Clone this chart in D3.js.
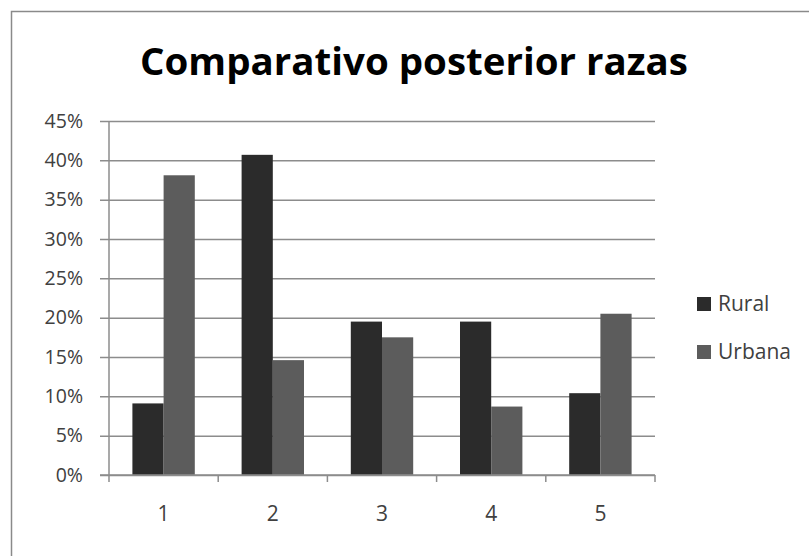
<!DOCTYPE html>
<html>
<head>
<meta charset="utf-8">
<script src="https://cdn.jsdelivr.net/npm/d3@7"></script>
<style>
  body { margin: 0; background: #fff; }
  text { font-family: "Open Sans", sans-serif; }
</style>
</head>
<body>
<div id="chart"></div>
<script>
// data
var categories = ["1", "2", "3", "4", "5"];
var seriesNames = ["Rural", "Urbana"];
var rural = [0.091, 0.407, 0.195, 0.195, 0.104];
var urbana = [0.381, 0.146, 0.175, 0.087, 0.205];
var yTicks = [0, 0.05, 0.10, 0.15, 0.20, 0.25, 0.30, 0.35, 0.40, 0.45];
var colors = ["#2b2b2b", "#5c5c5c"];

var svgWidth = 809;
var svgHeight = 556;

// plot area
var plot = { left: 109, right: 655, top: 121, bottom: 475 };

var svg = d3.select("#chart")
  .append("svg")
  .attr("width", svgWidth)
  .attr("height", svgHeight);

// chart frame (only top and left edges visible)
svg.append("path")
  .attr("d", "M11.5,556 V11.5 H809")
  .attr("fill", "none")
  .attr("stroke", "#8a8a8a")
  .attr("stroke-width", 1.5);

// title
svg.append("text")
  .attr("x", 414)
  .attr("y", 75)
  .attr("text-anchor", "middle")
  .attr("font-size", 38)
  .attr("font-weight", "bold")
  .attr("fill", "#000")
  .attr("textLength", 548)
  .attr("lengthAdjust", "spacingAndGlyphs")
  .text("Comparativo posterior razas");

var xScale = d3.scaleBand()
  .domain(categories)
  .range([plot.left, plot.right])
  .padding(0);

// two bars per category, gap of 150% of a bar
var barW = xScale.bandwidth() / 3.5;
var xInner = d3.scaleBand()
  .domain(seriesNames)
  .range([0.75 * barW, 2.75 * barW]);

var yScale = d3.scaleLinear()
  .domain([0, 0.45])
  .range([plot.bottom, plot.top]);

// y axis with gridlines
var yAxis = d3.axisLeft(yScale)
  .tickValues(yTicks)
  .tickFormat(d3.format(".0%"))
  .tickSize(-(plot.right - plot.left))
  .tickPadding(26);

var yG = svg.append("g")
  .attr("transform", `translate(${plot.left},0)`)
  .call(yAxis);
yG.select(".domain").remove();
yG.selectAll(".tick line")
  .attr("stroke", "#8c8c8c")
  .attr("stroke-width", 1.5)
  .attr("x1", -9);
yG.selectAll(".tick text")
  .attr("font-size", 19.5)
  .attr("fill", "#404040")
  .attr("font-family", "Open Sans, sans-serif");

// vertical axis line
svg.append("line")
  .attr("x1", plot.left).attr("x2", plot.left)
  .attr("y1", plot.top).attr("y2", plot.bottom)
  .attr("stroke", "#8c8c8c")
  .attr("stroke-width", 1.5);

// bars
var rows = categories.map(function(c, i) {
  return { cat: c, values: [rural[i], urbana[i]] };
});

var groups = svg.selectAll(".cat")
  .data(rows)
  .enter()
  .append("g")
  .attr("class", "cat")
  .attr("transform", d => `translate(${xScale(d.cat)},0)`);

groups.selectAll("rect")
  .data(d => d.values.map((v, j) => ({ name: seriesNames[j], value: v, color: colors[j] })))
  .enter()
  .append("rect")
  .attr("x", d => xInner(d.name))
  .attr("width", xInner.bandwidth())
  .attr("y", d => yScale(d.value))
  .attr("height", d => yScale(0) - yScale(d.value))
  .attr("fill", d => d.color);

// x axis
var xAxis = d3.axisBottom(xScale)
  .tickSize(0)
  .tickPadding(31);

var xG = svg.append("g")
  .attr("transform", `translate(0,${plot.bottom})`)
  .call(xAxis);
xG.select(".domain").remove();
xG.selectAll(".tick text")
  .attr("font-size", 21)
  .attr("fill", "#404040")
  .attr("font-family", "Open Sans, sans-serif");

svg.append("line")
  .attr("x1", plot.left - 9).attr("x2", plot.right)
  .attr("y1", plot.bottom).attr("y2", plot.bottom)
  .attr("stroke", "#8c8c8c")
  .attr("stroke-width", 1.5);

// tick marks at category boundaries
var bounds = categories.map(c => xScale(c)).concat([plot.right]);
svg.selectAll(".xtick")
  .data(bounds)
  .enter()
  .append("line")
  .attr("class", "xtick")
  .attr("x1", d => d).attr("x2", d => d)
  .attr("y1", plot.bottom).attr("y2", plot.bottom + 7)
  .attr("stroke", "#8c8c8c")
  .attr("stroke-width", 1.5);

// legend
var legend = svg.selectAll(".legend")
  .data(seriesNames)
  .enter()
  .append("g")
  .attr("class", "legend")
  .attr("transform", (d, i) => `translate(697,${297 + i * 48})`);

legend.append("rect")
  .attr("width", 14)
  .attr("height", 14)
  .attr("fill", (d, i) => colors[i]);

legend.append("text")
  .attr("x", 21)
  .attr("y", 14)
  .attr("font-size", 21)
  .attr("fill", "#404040")
  .text(d => d);
</script>
</body>
</html>
